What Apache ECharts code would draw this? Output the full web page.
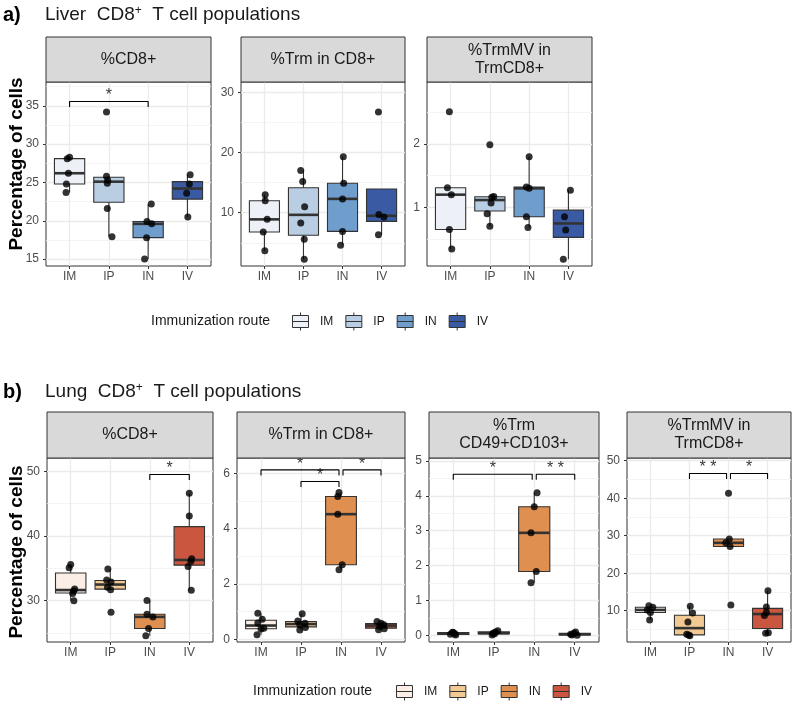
<!DOCTYPE html>
<html>
<head>
<meta charset="utf-8">
<script src="https://cdn.jsdelivr.net/npm/echarts@6/dist/echarts.min.js"></script>
<style>
  html, body { margin: 0; padding: 0; background: #fff; }
  #chart { width: 800px; height: 710px; }
</style>
</head>
<body>
<div id="chart"></div>
<script>
const routes = ['IM', 'IP', 'IN', 'IV'];
const liverColors = ['#eef0f8', '#b9cde3', '#6f9dcc', '#3a5ba3'];
const lungColors = ['#fbeee6', '#f2c993', '#df8f4f', '#cb563f'];

// points per route (IM, IP, IN, IV) + horizontal jitter of each point
const liverCD8 = [[28.3, 28.1, 26.2, 24.8, 23.7], [34.2, 25.8, 25.3, 24.9, 21.6, 17.9], [22.2, 19.9, 19.6, 17.8, 15.0], [26.0, 24.8, 23.6, 20.5]];
const liverCD8Jit = [[0, -0.06, -0.03, -0.08, -0.09], [-0.06, -0.06, -0.03, -0.04, -0.04, 0.08], [0.08, -0.03, 0.09, -0.04, -0.09], [0.07, 0.05, -0.02, 0.01]];
const liverTrm = [[13.0, 12.0, 8.9, 6.8, 3.7], [17.0, 15.2, 11.0, 8.3, 5.6, 2.3], [19.3, 14.9, 12.3, 6.9, 4.6], [26.7, 9.7, 9.3, 6.35]];
const liverTrmJit = [[0.02, 0.02, 0.07, -0.03, 0.01], [-0.07, -0.02, 0.03, -0.07, 0.02, 0.02], [0.02, 0.03, 0, 0, -0.05], [-0.08, -0.07, 0.06, -0.08]];
const liverMV = [[2.51, 1.31, 1.2, 0.65, 0.34], [1.99, 1.17, 1.16, 1.07, 0.9, 0.7], [1.8, 1.32, 1.3, 0.85, 0.68], [1.27, 0.85, 0.64, 0.18]];
const liverMVJit = [[-0.03, -0.08, 0.02, -0.03, 0.03], [0, 0.1, 0.05, 0.03, -0.07, 0], [0, -0.07, 0, -0.07, -0.03], [0.05, -0.1, -0.07, -0.13]];

const lungCD8 = [[35.6, 35.1, 31.8, 31.5, 31.1, 30.0], [34.9, 33.2, 32.9, 32.1, 31.7, 28.2], [30.05, 27.9, 27.5, 25.7, 24.6], [46.6, 43.1, 36.5, 36.1, 35.3, 31.6]];
const lungCD8Jit = [[0, -0.04, 0.1, 0.07, 0.05, 0.08], [-0.06, -0.09, 0.02, -0.07, 0.01, 0.02], [-0.07, -0.07, 0.08, -0.03, -0.1], [0, 0, 0.06, 0.04, -0.03, 0.05]];
const lungTrm = [[0.94, 0.72, 0.59, 0.40, 0.37, 0.16], [0.92, 0.66, 0.58, 0.52, 0.42, 0.33], [5.3, 5.16, 4.52, 2.69, 2.51], [0.64, 0.58, 0.52, 0.47, 0.38, 0.34]];
const lungTrmJit = [[-0.08, 0.03, -0.08, 0.07, 0, -0.1], [0.03, -0.08, 0.1, -0.03, 0.11, -0.03], [-0.05, -0.08, -0.08, 0.03, -0.05], [-0.1, 0, 0.07, -0.03, 0.08, -0.06]];
const lungCD49 = [[0.09, 0.08, 0.05, 0.03, 0.01], [0.13, 0.1, 0.06, 0.05, 0.01], [4.09, 3.69, 2.94, 1.83, 1.51], [0.1, 0.06, 0.03, 0.01, 0.0]];
const lungCD49Jit = [[-0.02, 0, 0.04, -0.07, 0.06], [0.1, 0.04, -0.02, 0.02, -0.04], [0.07, 0, -0.08, 0.05, -0.08], [0.02, -0.02, -0.1, -0.07, 0.06]];
const lungMV = [[11.3, 10.9, 10.2, 9.5, 7.5], [11.2, 9.4, 7.0, 3.7, 3.5, 3.3], [41.3, 29.1, 28.1, 27.1, 11.5], [15.3, 11.0, 9.5, 8.7, 4.1, 3.96]];
const lungMVJit = [[-0.04, 0.06, -0.08, 0, -0.02], [0.02, 0.08, -0.04, -0.07, -0.02, 0.01], [0, 0.02, -0.07, 0.04, 0.06], [0.01, -0.03, -0.03, -0.08, 0.02, -0.05]];

// significance brackets: [from, to, height, label]
const liverCD8Sig = [[0, 2, 35.56, '*']];
const lungCD8Sig = [[2, 3, 49.5, '*']];
const lungTrmSig = [[0, 1.95, 6.12, '*'], [1, 1.95, 5.7, '*'], [2.05, 3, 6.12, '*']];
const lungCD49Sig = [[0, 1.95, 4.62, '*'], [2.05, 3, 4.62, '* *']];
const lungMVSig = [[1, 1.95, 46.6, '* *'], [2.05, 3, 46.6, '*']];

// y tick labels
const liverCD8Ticks = [15, 20, 25, 30, 35];
const liverTrmTicks = [10, 20, 30];
const liverMVTicks = [1, 2];
const lungCD8Ticks = [30, 40, 50];
const lungTrmTicks = [0, 2, 4, 6];
const lungCD49Ticks = [0, 1, 2, 3, 4, 5];
const lungMVTicks = [10, 20, 30, 40, 50];

const FONT = 'Liberation Sans, Arial, sans-serif';

// layout of each facet: [left, top, width, height], strip top, y range
const panels = [
  { rect: [46, 82, 165, 184], strip: 37, title: '%CD8+', pts: liverCD8, jit: liverCD8Jit, sig: liverCD8Sig, ticks: liverCD8Ticks, yr: [14.1, 38.1], organ: 'Liver' },
  { rect: [241, 82, 164, 184], strip: 37, title: '%Trm in CD8+', pts: liverTrm, jit: liverTrmJit, sig: [], ticks: liverTrmTicks, yr: [1.16, 31.7], organ: 'Liver' },
  { rect: [427, 82, 165, 184], strip: 37, title: '%TrmMV in\nTrmCD8+', pts: liverMV, jit: liverMVJit, sig: [], ticks: liverMVTicks, yr: [0.073, 2.98], organ: 'Liver' },
  { rect: [47, 458, 166, 184], strip: 412, title: '%CD8+', pts: lungCD8, jit: lungCD8Jit, sig: lungCD8Sig, ticks: lungCD8Ticks, yr: [23.62, 52.06], organ: 'Lung' },
  { rect: [237, 458, 168, 184], strip: 412, title: '%Trm in CD8+', pts: lungTrm, jit: lungTrmJit, sig: lungTrmSig, ticks: lungTrmTicks, yr: [-0.1, 6.55], organ: 'Lung' },
  { rect: [429, 458, 170, 184], strip: 412, title: '%Trm\nCD49+CD103+', pts: lungCD49, jit: lungCD49Jit, sig: lungCD49Sig, ticks: lungCD49Ticks, yr: [-0.19, 5.086], organ: 'Lung' },
  { rect: [627, 458, 164, 184], strip: 412, title: '%TrmMV in\nTrmCD8+', pts: lungMV, jit: lungMVJit, sig: lungMVSig, ticks: lungMVTicks, yr: [1.65, 50.72], organ: 'Lung' }
];

// ggplot style box statistics (R type 7 quantiles, 1.5 IQR whiskers)
function quant(s, p) {
  const h = (s.length - 1) * p;
  const lo = Math.floor(h);
  const hi = Math.min(lo + 1, s.length - 1);
  return s[lo] + (h - lo) * (s[hi] - s[lo]);
}
function boxStats(vals) {
  const s = vals.slice().sort((a, b) => a - b);
  const q1 = quant(s, 0.25), med = quant(s, 0.5), q3 = quant(s, 0.75);
  const r = 1.5 * (q3 - q1);
  const inside = s.filter(v => v >= q1 - r && v <= q3 + r);
  return [inside[0], q1, med, q3, inside[inside.length - 1]];
}

function renderBox(params, api) {
  const x = api.value(0);
  const low = api.coord([x, api.value(1)]);
  const q1 = api.coord([x, api.value(2)]);
  const med = api.coord([x, api.value(3)]);
  const q3 = api.coord([x, api.value(4)]);
  const high = api.coord([x, api.value(5)]);
  const half = api.size([0.77, 0])[0] / 2;
  const line = { stroke: '#333333', lineWidth: 1.1 };
  return {
    type: 'group',
    children: [
      { type: 'line', shape: { x1: low[0], y1: low[1], x2: q1[0], y2: q1[1] }, style: line },
      { type: 'line', shape: { x1: q3[0], y1: q3[1], x2: high[0], y2: high[1] }, style: line },
      { type: 'rect', shape: { x: q1[0] - half, y: q3[1], width: half * 2, height: q1[1] - q3[1] },
        style: { fill: api.visual('color'), stroke: '#333333', lineWidth: 1.1 } },
      { type: 'line', shape: { x1: med[0] - half, y1: med[1], x2: med[0] + half, y2: med[1] },
        style: { stroke: '#333333', lineWidth: 2.6 } }
    ]
  };
}

const grids = [], xAxes = [], yAxes = [], series = [], graphics = [];
panels.forEach((p, i) => {
  const [l, t, w, h] = p.rect;
  grids.push({ left: l, top: t, width: w, height: h, show: true, backgroundColor: '#fff', borderColor: '#333333', borderWidth: 1 });
  xAxes.push({
    type: 'value', gridIndex: i, min: -0.6, max: 3.6, position: 'bottom',
    axisLine: { show: false, onZero: false },
    axisTick: { show: true, length: 3, customValues: [0, 1, 2, 3], lineStyle: { color: '#333333' } },
    axisLabel: { customValues: [0, 1, 2, 3], formatter: v => routes[Math.round(v)], color: '#4d4d4d', fontSize: 12, margin: 5, fontFamily: FONT },
    splitLine: { show: true, lineStyle: { color: '#ebebeb', width: 1.3 } }
  });
  const step = p.ticks[1] - p.ticks[0];
  const minors = [];
  for (let v = p.ticks[0] - step / 2; v <= p.yr[1]; v += step) if (v >= p.yr[0]) minors.push(v);
  yAxes.push({
    type: 'value', gridIndex: i, min: p.yr[0], max: p.yr[1], position: 'left',
    axisLine: { show: false, onZero: false },
    axisTick: { show: true, length: 3, customValues: p.ticks, lineStyle: { color: '#333333' } },
    axisLabel: { customValues: p.ticks, color: '#4d4d4d', fontSize: 12, margin: 7, fontFamily: FONT },
    splitLine: { show: true, lineStyle: { color: '#ebebeb', width: 1.3 } }
  });
  yAxes.push({
    type: 'value', gridIndex: i, min: p.yr[0], max: p.yr[1], position: 'left',
    axisLine: { show: false, onZero: false },
    axisTick: { show: false, customValues: minors },
    axisLabel: { show: false },
    splitLine: { show: true, lineStyle: { color: '#f1f1f1', width: 0.8 } }
  });
  const colors = p.organ === 'Liver' ? liverColors : lungColors;
  const yIdx = i * 2;
  routes.forEach((r, c) => {
    series.push({
      type: 'custom', name: p.organ + ' ' + r, xAxisIndex: i, yAxisIndex: yIdx,
      renderItem: renderBox, itemStyle: { color: colors[c] },
      encode: { x: 0, y: [1, 2, 3, 4, 5] },
      data: [[c].concat(boxStats(p.pts[c]))], z: 2
    });
  });
  const dots = [];
  p.pts.forEach((vals, c) => vals.forEach((v, k) => dots.push([c + p.jit[c][k], v])));
  series.push({
    type: 'scatter', xAxisIndex: i, yAxisIndex: yIdx, data: dots,
    symbolSize: 7, itemStyle: { color: '#000' }, z: 4
  });
  const tip = 0.03 * (p.yr[1] - p.yr[0]);
  p.sig.forEach(s => {
    series.push({
      type: 'line', xAxisIndex: i, yAxisIndex: yIdx, symbol: 'none', z: 4,
      lineStyle: { color: '#000', width: 1.1 },
      data: [[s[0], s[2] - tip], [s[0], s[2]], [s[1], s[2]], [s[1], s[2] - tip]]
    });
    series.push({
      type: 'scatter', xAxisIndex: i, yAxisIndex: yIdx, z: 4, symbolSize: 1,
      itemStyle: { color: 'rgba(0,0,0,0)' },
      label: { show: true, position: 'top', distance: -3, formatter: s[3], fontSize: 16, color: '#000', fontFamily: FONT },
      data: [[(s[0] + s[1]) / 2, s[2]]]
    });
  });
  // facet strip
  graphics.push({ type: 'rect', shape: { x: l, y: p.strip, width: w, height: t - p.strip },
    style: { fill: '#d9d9d9', stroke: '#333333', lineWidth: 1 }, z: 10 });
  graphics.push({ type: 'text', x: l + w / 2, y: (p.strip + t) / 2, z: 11,
    style: { text: p.title, font: '16px ' + FONT, fill: '#1a1a1a', align: 'center', verticalAlign: 'middle', lineHeight: 18 } });
});

// y axis titles and legend titles
[[17, 164], [17, 552]].forEach(pos => graphics.push({
  type: 'text', x: pos[0], y: pos[1], rotation: Math.PI / 2, z: 11,
  style: { text: 'Percentage of cells', font: 'bold 19px ' + FONT, fill: '#000', align: 'center', verticalAlign: 'middle' }
}));
[[151, 321], [253, 691]].forEach(pos => graphics.push({
  type: 'text', x: pos[0], y: pos[1], z: 11,
  style: { text: 'Immunization route', font: '14px ' + FONT, fill: '#1a1a1a', align: 'left', verticalAlign: 'middle' }
}));

const boxIcon = 'path://M1,3L17,3L17,15L1,15Z M1,9L17,9 M9,0L9,3 M9,15L9,18';
function legendFor(organ, left, top) {
  return {
    left: left, top: top, padding: 0, orient: 'horizontal', selectedMode: false,
    data: routes.map(r => organ + ' ' + r),
    icon: boxIcon, itemWidth: 19, itemHeight: 18, itemGap: 12,
    itemStyle: { borderColor: '#333333', borderWidth: 1 },
    formatter: name => name.split(' ')[1],
    textStyle: { fontSize: 12, color: '#1a1a1a', fontFamily: FONT, padding: [0, 0, 0, 5], width: 17 }
  };
}

const titleRich = {
  t: { fontSize: 19, fontWeight: 'normal', color: '#1a1a1a', fontFamily: FONT },
  s: { fontSize: 12, fontWeight: 'normal', color: '#1a1a1a', fontFamily: FONT, verticalAlign: 'top' }
};

const option = {
  animation: false,
  textStyle: { fontFamily: FONT },
  title: [
    { left: 3, top: 5, padding: 0, text: 'a)', textStyle: { fontSize: 20, fontWeight: 'bold', color: '#000', fontFamily: FONT } },
    { left: 45, top: 5, padding: 0, text: '{t|Liver  CD8}{s|+}{t|  T cell populations}', textStyle: { fontWeight: 'normal', rich: titleRich } },
    { left: 3, top: 382, padding: 0, text: 'b)', textStyle: { fontSize: 20, fontWeight: 'bold', color: '#000', fontFamily: FONT } },
    { left: 45, top: 382, padding: 0, text: '{t|Lung  CD8}{s|+}{t|  T cell populations}', textStyle: { fontWeight: 'normal', rich: titleRich } }
  ],
  legend: [legendFor('Liver', 292, 312), legendFor('Lung', 396, 682)],
  grid: grids,
  xAxis: xAxes,
  yAxis: yAxes,
  series: series,
  graphic: graphics
};

const myChart = echarts.init(document.getElementById('chart'));
myChart.setOption(option);
window.onresize = function () {
  myChart.resize();
};
</script>
</body>
</html>
